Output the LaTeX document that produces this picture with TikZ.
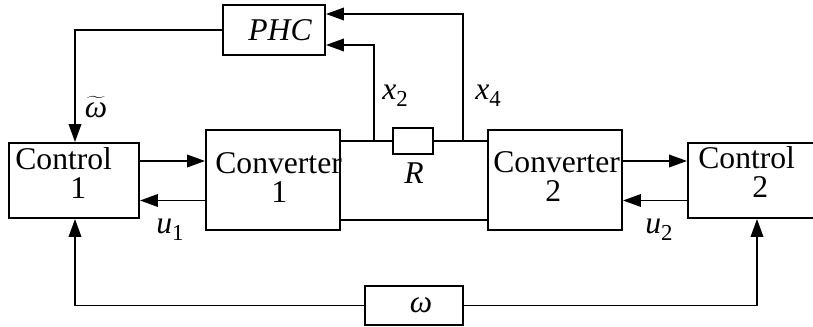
\documentclass[tikz,border=0pt]{standalone}
\usepackage{fontspec}
\setmainfont{Liberation Serif}
\usetikzlibrary{arrows.meta,positioning,calc}
\newcommand{\sig}[2]{{\itshape #1}\raisebox{-0.45ex}{\fontsize{13}{13}\selectfont #2}}
\tikzset{
  blk/.style={draw, line width=1.1pt, inner sep=0pt},
  wire/.style={line width=1.1pt},
  sigArrow/.style={line width=1.1pt, -{Triangle[length=3.6mm,width=2.5mm]}},
  txt/.style={inner sep=0pt, align=left, anchor=base west},
  lbl/.style={inner sep=0pt}
}

\begin{document}
\begin{tikzpicture}[x=0.2mm, y=-0.2mm, font=\fontsize{18}{16.8}\selectfont]
  \useasboundingbox (0,0) rectangle (813,327);
  % blocks
  \node[blk, minimum width=20.4mm, minimum height=10mm] (phc) at (274,30) {\hspace*{2.4mm}\itshape PHC};
  \node[blk, minimum width=26mm, minimum height=15mm] (ctlA) at (74,180.5) {};
  \node[blk, minimum width=26.8mm, minimum height=20mm] (cnvA) at (273,180) {};
  \node[blk, minimum width=26.8mm, minimum height=20mm] (cnvB) at (555,180) {};
  \node[blk, minimum width=26mm, minimum height=15mm] (ctlB) at (753,180.5) {};
  \node[blk, minimum width=8mm, minimum height=5.2mm] (res) at (413,141) {};
  \node[blk, minimum width=19.6mm, minimum height=7.8mm] (om) at (414,305.5) {\hspace*{2.8mm}\itshape ω};

  \node[txt] (ctlAtxt) at (15,199) {Control\\\hspace*{11mm}1};
  \node[txt] (cnvAtxt) at (215,203) {Converter\\\hspace*{11.2mm}1};
  \node[txt] (cnvBtxt) at (493,202) {Converter\\\hspace*{10.4mm}2};
  \node[txt] (ctlBtxt) at (698,198) {Control\\\hspace*{10.8mm}2};

  % wires
  \coordinate (tapA) at (374,141);
  \coordinate (tapB) at (463,141);
  \draw[wire] (cnvA.east |- res) -- (res.west);
  \draw[wire] (res.east) -- (cnvB.west |- res);
  \draw[wire] ([yshift=-8mm]cnvA.east) -- ([yshift=-8mm]cnvB.west);

  % signals
  \draw[sigArrow] ([yshift=3.9mm]ctlA.east) -- ([yshift=3.9mm]ctlA.east -| cnvA.west);
  \draw[sigArrow] ([yshift=-4mm]ctlA.east -| cnvA.west) -- ([yshift=-4mm]ctlA.east);
  \draw[sigArrow] ([yshift=3.9mm]ctlB.west -| cnvB.east) -- ([yshift=3.9mm]ctlB.west);
  \draw[sigArrow] ([yshift=-4mm]ctlB.west) -- ([yshift=-4mm]ctlB.west -| cnvB.east);
  \draw[sigArrow] (tapA) |- ([yshift=-3mm]phc.east);
  \draw[sigArrow] (tapB) |- ([yshift=3.2mm]phc.east);
  \draw[sigArrow] (phc.west) -| ([xshift=0.2mm]ctlA.north);
  \draw[sigArrow] (om.west) -| ([xshift=0.2mm]ctlA.south);
  \draw[sigArrow] (om.east) -| ([xshift=0.8mm]ctlB.south);

  % labels
  \node[lbl] (wt) at (96,107) {$\widetilde{\hbox{\itshape ω}}$};
  \node[lbl] (xtwo) at (395,96) {\sig{x}{2}};
  \node[lbl] (xfour) at (488,96) {\sig{x}{4}};
  \node[lbl] (uone) at (170,230) {\sig{u}{1}};
  \node[lbl] (utwo) at (659,230) {\sig{u}{2}};
  \node[lbl] (rlbl) at (414,173) {\itshape R};
\end{tikzpicture}
\end{document}
